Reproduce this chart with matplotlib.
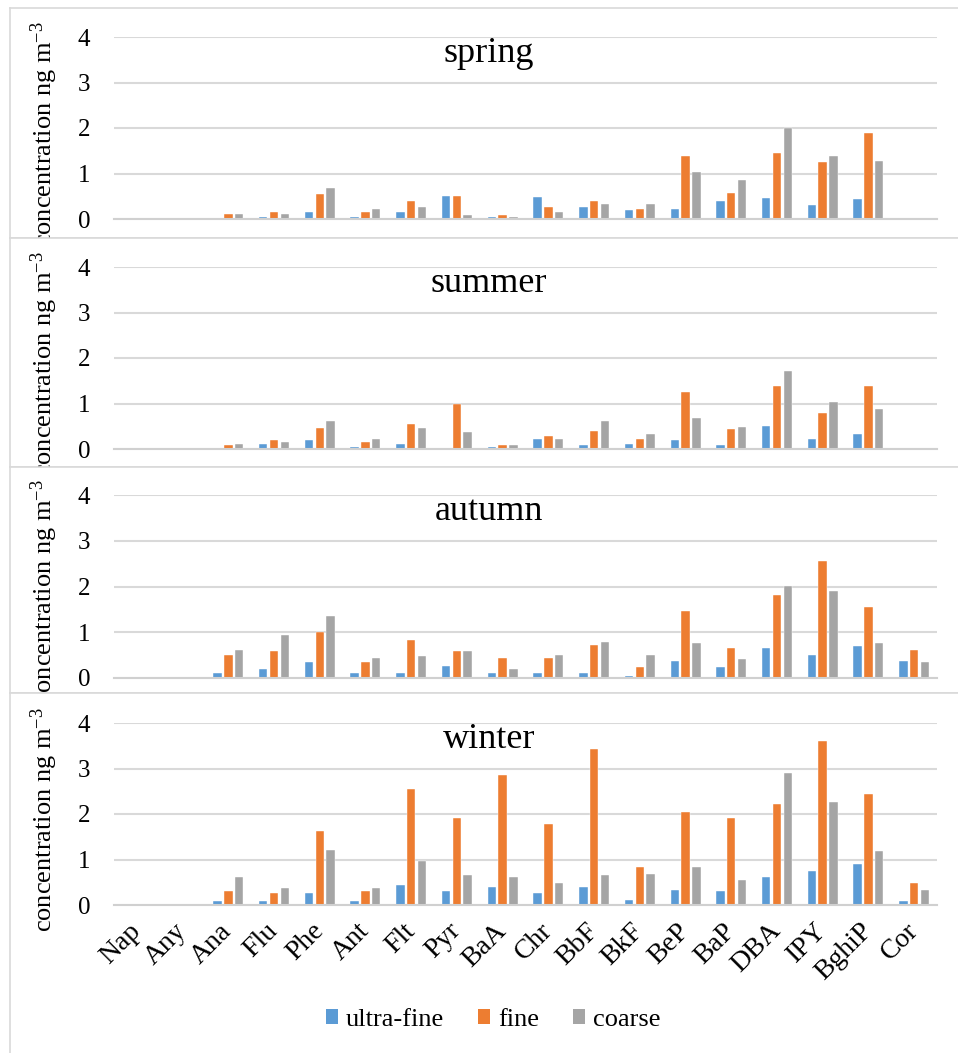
import numpy as np
import matplotlib.pyplot as plt
from matplotlib.patches import Patch

plt.rcParams['font.family'] = ['Liberation Serif', 'DejaVu Serif']
plt.rcParams['mathtext.fontset'] = 'custom'
plt.rcParams['mathtext.rm'] = 'Liberation Serif'
plt.rcParams['mathtext.default'] = 'rm'

# PAH compounds on the x axis
compounds = ['Nap', 'Any', 'Ana', 'Flu', 'Phe', 'Ant', 'Flt', 'Pyr', 'BaA',
             'Chr', 'BbF', 'BkF', 'BeP', 'BaP', 'DBA', 'IPY', 'BghiP', 'Cor']
fractions = ['ultra-fine', 'fine', 'coarse']
seasons = ['spring', 'summer', 'autumn', 'winter']

# concentrations (ng m-3) per season and size fraction
spring_uf = [0.01, 0.01, 0.01, 0.05, 0.16, 0.05, 0.16, 0.51, 0.04, 0.48, 0.26, 0.20, 0.23, 0.40, 0.47, 0.30, 0.44, 0.01]
spring_f = [0.01, 0.01, 0.12, 0.16, 0.54, 0.16, 0.40, 0.51, 0.09, 0.26, 0.40, 0.23, 1.39, 0.58, 1.46, 1.25, 1.88, 0.01]
spring_c = [0.01, 0.01, 0.12, 0.12, 0.68, 0.23, 0.26, 0.09, 0.04, 0.16, 0.34, 0.32, 1.03, 0.86, 1.99, 1.39, 1.28, 0.01]

summer_uf = [0.01, 0.00, 0.01, 0.12, 0.19, 0.05, 0.12, 0.01, 0.05, 0.23, 0.08, 0.12, 0.19, 0.08, 0.51, 0.23, 0.34, 0.01]
summer_f = [0.01, 0.01, 0.09, 0.19, 0.47, 0.16, 0.54, 1.00, 0.08, 0.29, 0.40, 0.23, 1.25, 0.44, 1.39, 0.79, 1.39, 0.01]
summer_c = [0.01, 0.01, 0.12, 0.16, 0.62, 0.23, 0.47, 0.37, 0.08, 0.23, 0.62, 0.34, 0.68, 0.48, 1.71, 1.03, 0.89, 0.01]

autumn_uf = [0.01, 0.01, 0.12, 0.20, 0.34, 0.12, 0.12, 0.26, 0.12, 0.12, 0.12, 0.05, 0.37, 0.23, 0.65, 0.51, 0.69, 0.37]
autumn_f = [0.01, 0.01, 0.51, 0.58, 1.00, 0.34, 0.83, 0.58, 0.44, 0.44, 0.72, 0.23, 1.46, 0.65, 1.81, 2.55, 1.56, 0.61]
autumn_c = [0.01, 0.01, 0.61, 0.93, 1.35, 0.44, 0.48, 0.58, 0.20, 0.51, 0.79, 0.51, 0.76, 0.41, 2.02, 1.91, 0.76, 0.34]

winter_uf = [0.01, 0.01, 0.09, 0.09, 0.26, 0.09, 0.44, 0.30, 0.40, 0.26, 0.40, 0.12, 0.33, 0.30, 0.62, 0.75, 0.90, 0.09]
winter_f = [0.01, 0.01, 0.30, 0.26, 1.63, 0.30, 2.55, 1.91, 2.86, 1.77, 3.42, 0.83, 2.05, 1.91, 2.23, 3.60, 2.44, 0.48]
winter_c = [0.01, 0.01, 0.62, 0.37, 1.21, 0.37, 0.97, 0.65, 0.62, 0.48, 0.65, 0.69, 0.83, 0.54, 2.90, 2.26, 1.18, 0.33]

season_data = {
    'spring': [spring_uf, spring_f, spring_c],
    'summer': [summer_uf, summer_f, summer_c],
    'autumn': [autumn_uf, autumn_f, autumn_c],
    'winter': [winter_uf, winter_f, winter_c],
}

colors = ['#5B9BD5', '#ED7D31', '#A5A5A5']
grid_color = '#D9D9D9'

W, H = 958, 1053
fig = plt.figure(figsize=(W / 100, H / 100), dpi=100)

def fx(px):
    return px / W

def fy(py):
    return 1 - py / H

# (box top, box bottom, axis top, axis bottom) in pixels
panels = [
    (8, 238, 37, 219),
    (238, 467, 267, 449),
    (467, 693, 495, 678),
    (693, 1060, 723, 905),
]
box_left, box_right = 10, 962
ax_left, ax_right = 114, 937

x = np.arange(len(compounds))
bar_w = 0.185
step = 0.236

for i, season in enumerate(seasons):
    btop, bbot, atop, abot = panels[i]
    # white chart-area box, added before the axes so it covers the panel above
    bg = fig.add_axes([fx(box_left), fy(bbot), fx(box_right - box_left), (bbot - btop) / H])
    bg.set_xticks([])
    bg.set_yticks([])
    bg.set_facecolor('white')
    for sp in bg.spines.values():
        sp.set_color('#D9D9D9')
        sp.set_linewidth(1.2)

    ax = fig.add_axes([fx(ax_left), fy(abot), fx(ax_right - ax_left), (abot - atop) / H])
    ax.set_facecolor('none')
    for k, vals in enumerate(season_data[season]):
        ax.bar(x + (k - 1) * step, vals, width=bar_w, color=colors[k],
               edgecolor='white', linewidth=0.3, zorder=3)

    ax.set_xlim(-0.5, len(compounds) - 0.5)
    ax.set_ylim(0, 4)
    ax.set_yticks([0, 1, 2, 3, 4])
    ax.yaxis.grid(True, color=grid_color, linewidth=1.5, zorder=0)
    ax.set_axisbelow(True)
    for side in ['top', 'right', 'left']:
        ax.spines[side].set_visible(False)
    ax.spines['bottom'].set_color('#D0D0D0')
    ax.spines['bottom'].set_linewidth(1.5)
    ax.spines['bottom'].set_zorder(4)
    ax.tick_params(axis='y', length=0, pad=17, labelsize=18)
    ax.tick_params(axis='x', length=0)

    if season == 'winter':
        ax.set_xticks(x)
        ax.set_xticklabels(compounds, rotation=45, ha='right', va='center',
                           rotation_mode='anchor', fontsize=20)
        ax.tick_params(axis='x', pad=16)
    else:
        ax.set_xticks([])

    ax.set_ylabel('concentration ng m$^{-3}$', fontsize=19)
    ax.yaxis.set_label_coords(-0.066, 0.47)

    fig.text(fx(489), fy(atop + 16), season, ha='center', va='center', fontsize=26)

handles = [Patch(facecolor=c, edgecolor='none') for c in colors]
fig.legend(handles, fractions, loc='center', bbox_to_anchor=(fx(493), fy(1020)),
           ncol=3, frameon=False, fontsize=19, handlelength=0.45, handleheight=0.5,
           handletextpad=0.3, columnspacing=1.3)

fig.savefig('out.png', dpi=100)
